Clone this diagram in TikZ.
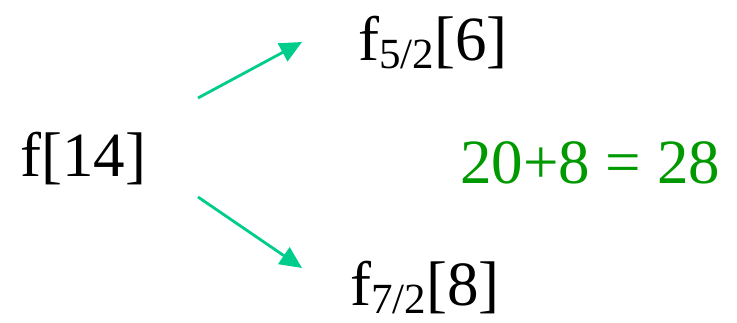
\documentclass[tikz,border=0pt]{standalone}
\usepackage{fontspec}
\setmainfont{Liberation Serif}
\usetikzlibrary{arrows.meta}
\definecolor{arrowc}{RGB}{0,204,140}
\definecolor{eqgreen}{RGB}{0,153,0}
\newcommand{\subtxt}[1]{\raisebox{-0.13em}{\fontsize{43}{43}\selectfont #1}}
\tikzset{
  lbl/.style={anchor=base west, inner sep=0pt, font=\fontsize{63}{63}\selectfont},
  arr/.style={draw=arrowc, line width=2.8pt, -{Triangle[length=22pt,width=20pt]}}
}
\begin{document}
\begin{tikzpicture}[x=1pt,y=-1pt]
\useasboundingbox (0,0) rectangle (737,322);
\node[lbl] (f14) at (20,176) {f[14]};
\node[lbl] (f52) at (358,60) {f\subtxt{5/2}[6]};
\node[lbl] (f72) at (350,305) {f\subtxt{7/2}[8]};
\node[lbl, text=eqgreen] (eq) at (460,183) {20+8 = 28};
\coordinate (a1s) at (198,98);
\coordinate (a1e) at (302,42);
\coordinate (a2s) at (198,197);
\coordinate (a2e) at (302,268);
\draw[arr] (a1s) -- (a1e);
\draw[arr] (a2s) -- (a2e);
\end{tikzpicture}
\end{document}
